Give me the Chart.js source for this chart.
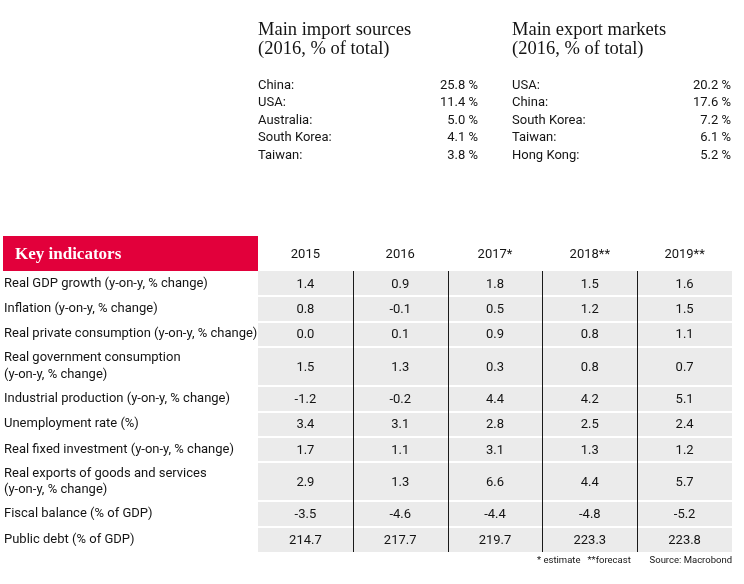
<!DOCTYPE html>
<html>
<head>
<meta charset="utf-8">
<script src="https://cdn.jsdelivr.net/npm/chart.js@4/dist/chart.umd.min.js"></script>
<style>
  html, body { margin: 0; padding: 0; background: #ffffff; }
  #wrap { width: 744px; height: 584px; position: relative; }
</style>
</head>
<body>
<div id="wrap"><canvas id="c" width="744" height="584"></canvas></div>
<script>
// ---- data ----
const importTitle = ['Main import sources', '(2016, % of total)'];
const importCountries = ['China:', 'USA:', 'Australia:', 'South Korea:', 'Taiwan:'];
const importShares = [25.8, 11.4, 5.0, 4.1, 3.8];
const exportTitle = ['Main export markets', '(2016, % of total)'];
const exportCountries = ['USA:', 'China:', 'South Korea:', 'Taiwan:', 'Hong Kong:'];
const exportShares = [20.2, 17.6, 7.2, 6.1, 5.2];

const tableTitle = 'Key indicators';
const years = ['2015', '2016', '2017*', '2018**', '2019**'];
const indicators = [
  'Real GDP growth (y-on-y, % change)',
  'Inflation (y-on-y, % change)',
  'Real private consumption (y-on-y, % change)',
  ['Real government consumption', '(y-on-y, % change)'],
  'Industrial production (y-on-y, % change)',
  'Unemployment rate (%)',
  'Real fixed investment (y-on-y, % change)',
  ['Real exports of goods and services', '(y-on-y, % change)'],
  'Fiscal balance (% of GDP)',
  'Public debt (% of GDP)'
];
const v2015 = [1.4, 0.8, 0.0, 1.5, -1.2, 3.4, 1.7, 2.9, -3.5, 214.7];
const v2016 = [0.9, -0.1, 0.1, 1.3, -0.2, 3.1, 1.1, 1.3, -4.6, 217.7];
const v2017 = [1.8, 0.5, 0.9, 0.3, 4.4, 2.8, 3.1, 6.6, -4.4, 219.7];
const v2018 = [1.5, 1.2, 0.8, 0.8, 4.2, 2.5, 1.3, 4.4, -4.8, 223.3];
const v2019 = [1.6, 1.5, 1.1, 0.7, 5.1, 2.4, 1.2, 5.7, -5.2, 223.8];
const footNote = '* estimate   **forecast';
const sourceNote = 'Source: Macrobond';

// ---- derived row geometry (in row units, from label line counts) ----
const yearValues = [v2015, v2016, v2017, v2018, v2019];
const rowUnits = indicators.map(l => Array.isArray(l) ? 1 + 0.56 * (l.length - 1) : 1);
const rowBounds = [0];
rowUnits.forEach(u => rowBounds.push(rowBounds[rowBounds.length - 1] + u));
const rowCenters = rowUnits.map((u, i) => rowBounds[i] + u / 2);
const totalUnits = rowBounds[rowBounds.length - 1];

const SANS = 'Roboto, "Liberation Sans", sans-serif';
const SERIF = '"Liberation Serif", "DejaVu Serif", serif';
const TXT = '#141414';

const fmt = v => v.toFixed(1);

const tablePlugin = {
  id: 'tablePlugin',
  beforeDraw(chart) {
    const { ctx, chartArea: a, scales: { x, y } } = chart;
    ctx.save();
    // grey body
    ctx.fillStyle = '#ebebeb';
    ctx.fillRect(a.left, a.top, a.right - a.left, a.bottom - a.top);
    // white row separators
    ctx.strokeStyle = '#ffffff';
    ctx.lineWidth = 2;
    rowBounds.slice(1, -1).forEach(b => {
      const py = Math.round(y.getPixelForValue(b));
      ctx.beginPath(); ctx.moveTo(a.left, py); ctx.lineTo(a.right, py); ctx.stroke();
    });
    // column separators
    ctx.strokeStyle = '#1a1a1a';
    ctx.lineWidth = 1;
    for (let c = 1; c < years.length; c++) {
      const px = Math.round(x.getPixelForValue(c)) + 0.5;
      ctx.beginPath(); ctx.moveTo(px, a.top); ctx.lineTo(px, a.bottom); ctx.stroke();
    }
    // red header box
    ctx.fillStyle = '#e2003b';
    ctx.fillRect(3, x.top, a.left - 3, a.top - x.top);
    ctx.fillStyle = '#ffffff';
    ctx.font = 'bold 17px ' + SERIF;
    ctx.textBaseline = 'middle';
    ctx.textAlign = 'left';
    ctx.fillText(tableTitle, 15, (x.top + a.top) / 2 + 1);
    ctx.restore();
  },
  afterDatasetsDraw(chart) {
    const { ctx } = chart;
    ctx.save();
    ctx.fillStyle = TXT;
    ctx.font = '13px ' + SANS;
    ctx.textAlign = 'center';
    ctx.textBaseline = 'middle';
    chart.data.datasets.forEach((ds, di) => {
      const meta = chart.getDatasetMeta(di);
      meta.data.forEach((pt, i) => {
        ctx.fillText(fmt(ds.values[i]), pt.x, pt.y + 1);
      });
    });
    ctx.restore();
  },
  afterDraw(chart) {
    const { ctx, chartArea: a } = chart;
    ctx.save();
    ctx.fillStyle = TXT;
    ctx.textBaseline = 'middle';
    const block = (left, right, title, names, vals) => {
      ctx.font = '18.5px ' + SERIF;
      ctx.textAlign = 'left';
      title.forEach((t, i) => ctx.fillText(t, left, 30 + i * 19));
      ctx.font = '13px ' + SANS;
      names.forEach((n, i) => {
        const py = 85.5 + i * 17.5;
        ctx.textAlign = 'left';
        ctx.fillText(n, left, py);
        ctx.textAlign = 'right';
        ctx.fillText(fmt(vals[i]) + ' %', right, py);
      });
    };
    block(258, 478, importTitle, importCountries, importShares);
    block(512, 731, exportTitle, exportCountries, exportShares);
    // footnotes
    ctx.font = '9.5px ' + SANS;
    ctx.textAlign = 'left';
    ctx.fillText(footNote, 537, a.bottom + 9);
    ctx.textAlign = 'right';
    ctx.fillText(sourceNote, a.right, a.bottom + 9);
    ctx.restore();
  }
};

const datasets = yearValues.map((vals, c) => ({
  label: years[c],
  values: vals,
  data: vals.map((v, r) => ({ x: c + 0.5, y: rowCenters[r] })),
  pointRadius: 0,
  pointHoverRadius: 0,
  showLine: false
}));

new Chart(document.getElementById('c'), {
  type: 'scatter',
  data: { datasets },
  plugins: [tablePlugin],
  options: {
    responsive: false,
    animation: false,
    events: [],
    layout: { padding: { left: 4, top: 236, right: 12, bottom: 32 } },
    plugins: { legend: { display: false }, tooltip: { enabled: false } },
    scales: {
      x: {
        type: 'linear',
        position: 'top',
        min: 0,
        max: years.length,
        grid: { display: false, drawTicks: false },
        border: { display: false },
        afterBuildTicks: s => { s.ticks = years.map((_, i) => ({ value: i + 0.5 })); },
        afterFit: s => { s.height = 35; },
        ticks: {
          autoSkip: false,
          maxRotation: 0,
          padding: 8,
          color: TXT,
          font: { family: SANS, size: 13 },
          callback: (v, i) => years[i]
        }
      },
      y: {
        type: 'linear',
        position: 'left',
        reverse: true,
        min: 0,
        max: totalUnits,
        grid: { display: false, drawTicks: false },
        border: { display: false },
        afterBuildTicks: s => { s.ticks = rowCenters.map(v => ({ value: v })); },
        afterFit: s => { s.width = 254; },
        ticks: {
          autoSkip: false,
          crossAlign: 'far',
          padding: 4,
          color: TXT,
          font: { family: SANS, size: 13, lineHeight: 1.3 },
          callback: (v, i) => indicators[i]
        }
      }
    }
  }
});
</script>
</body>
</html>
